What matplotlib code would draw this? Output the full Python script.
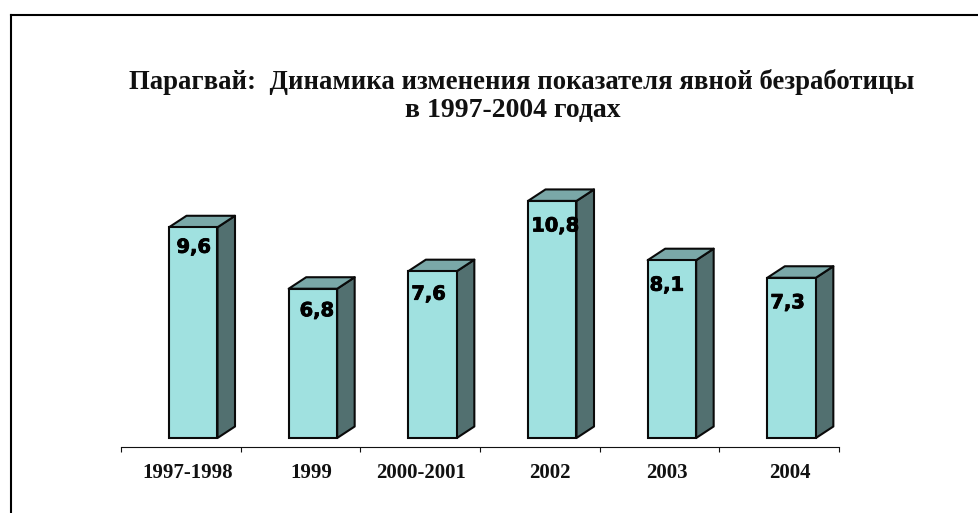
import matplotlib
matplotlib.use("Agg")
import matplotlib.pyplot as plt
import matplotlib.patheffects as pe
from matplotlib.patches import Polygon
from matplotlib.lines import Line2D

categories = ["1997-1998", "1999", "2000-2001", "2002", "2003", "2004"]
values = [9.6, 6.8, 7.6, 10.8, 8.1, 7.3]
value_labels = ["9,6", "6,8", "7,6", "10,8", "8,1", "7,3"]
title_line1 = "Парагвай:  Динамика изменения показателя явной безработицы"
title_line2 = "в 1997-2004 годах"

W, H, DPI = 979, 513, 100
FRONT, SIDE, TOP = "#A0E1E0", "#527070", "#7AA8A8"
EDGE = "#0a0a0a"

# pixel-to-data geometry
ax_left, ax_right, ax_bottom, ax_top = 121, 839, 447, 147
base_px = 438
px_per_unit = 21.95
px_per_cat = (ax_right - ax_left) / len(categories)
bar_w = 48.5 / px_per_cat
bar_off = 48 / px_per_cat
dx = 17.5 / px_per_cat
dy = 11.5 / px_per_unit
# small label shifts in pixels relative to the bar centre / top
lab_dx = [0.5, 4, -4, 3, -5, -4]
lab_dy = [-20, -22, -23, -25, -25, -25]
cat_dx = [-6, -2, -12, -2, -5, -2]

fig = plt.figure(figsize=(W / DPI, H / DPI), dpi=DPI, facecolor="white")
ax = fig.add_axes([ax_left / W, 1 - ax_bottom / H, (ax_right - ax_left) / W, (ax_bottom - ax_top) / H])
ax.set_xlim(0, len(categories))
ax.set_ylim(-(ax_bottom - base_px) / px_per_unit, (base_px - ax_top) / px_per_unit)

for s in ("top", "left", "right"):
    ax.spines[s].set_visible(False)
ax.spines["bottom"].set_linewidth(0.8)
ax.spines["bottom"].set_color("#111111")
ax.set_yticks([])
ax.set_xticks(range(len(categories) + 1))
ax.set_xticklabels([])
ax.tick_params(axis="x", length=3.6, width=0.8, color="#111111")

lw = 1.5
for i, (v, cat, lab) in enumerate(zip(values, categories, value_labels)):
    x0 = i + bar_off
    x1 = x0 + bar_w
    ax.add_patch(Polygon([(x1, 0), (x1 + dx, dy), (x1 + dx, v + dy), (x1, v)],
                         closed=True, fc=SIDE, ec=EDGE, lw=lw, joinstyle="round"))
    ax.add_patch(Polygon([(x0, v), (x0 + dx, v + dy), (x1 + dx, v + dy), (x1, v)],
                         closed=True, fc=TOP, ec=EDGE, lw=lw, joinstyle="round"))
    ax.bar(x0, v, width=bar_w, align="edge", color=FRONT, edgecolor=EDGE, linewidth=lw, zorder=3)
    cx = x0 + bar_w / 2
    ann = ax.annotate(lab, (cx, v), xytext=(lab_dx[i] * 72 / DPI, lab_dy[i] * 72 / DPI),
                      textcoords="offset points", ha="center", va="center", zorder=5,
                      family="DejaVu Sans", weight="bold", fontsize=14, color="black")
    ann.set_path_effects([pe.withStroke(linewidth=0.6, foreground="black")])
    ax.annotate(cat, (cx, 0), xycoords=("data", "axes fraction"),
                xytext=(cat_dx[i] * 72 / DPI, -26 * 72 / DPI), textcoords="offset points",
                ha="center", va="center", family="Liberation Serif", weight="bold",
                fontsize=15, color="#111111")

fig.text(521.5 / W, 1 - 82 / H, title_line1, ha="center", va="center", family="Liberation Serif",
         weight="bold", fontsize=19.25, color="#111111")
fig.text(513 / W, 1 - 110 / H, title_line2, ha="center", va="center", family="Liberation Serif",
         weight="bold", fontsize=20, color="#111111")

# outer frame: top and left edges only
fig.add_artist(Line2D([11 / W, 11 / W], [0, 1 - 15 / H], color="black", lw=1.5,
                      transform=fig.transFigure, solid_capstyle="projecting"))
fig.add_artist(Line2D([11 / W, 1], [1 - 15 / H, 1 - 15 / H], color="black", lw=1.5,
                      transform=fig.transFigure, solid_capstyle="projecting"))

fig.savefig("out.png", dpi=DPI, facecolor="white")
